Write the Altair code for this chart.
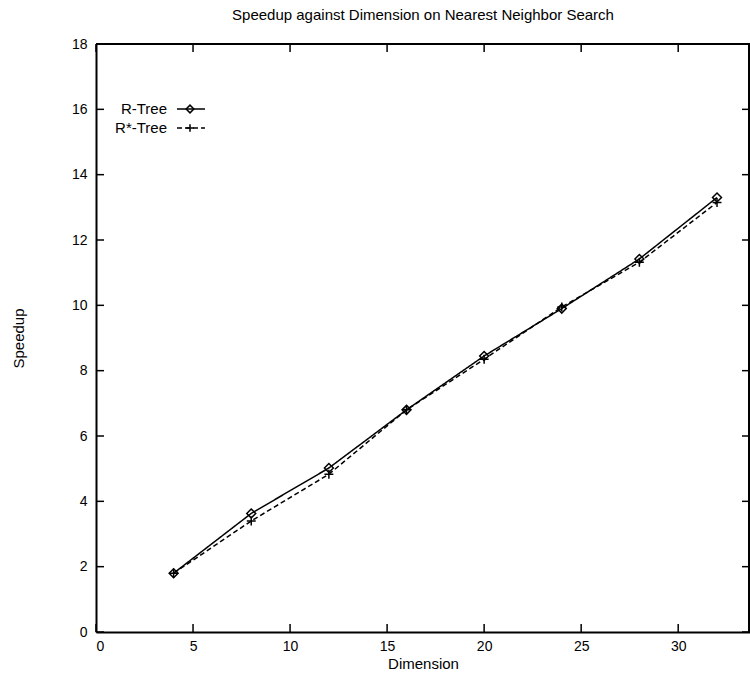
import altair as alt
import pandas as pd

# ---- data ----
dims = [4, 8, 12, 16, 20, 24, 28, 32]
rtree = [1.8, 3.63, 5.02, 6.8, 8.45, 9.9, 11.42, 13.3]
rstar = [1.8, 3.4, 4.83, 6.8, 8.35, 9.95, 11.32, 13.15]
series = ["R-Tree", "R*-Tree"]
x_ticks = [0, 5, 10, 15, 20, 25, 30]
y_ticks = [0, 2, 4, 6, 8, 10, 12, 14, 16, 18]

# ---- layout / style ----
W, H = 654, 588
FONT = "Liberation Sans"
TICK = 8
LW = 1.5
FRAME = 2
PLUS = "M-1,0L1,0M0,-1L0,1"
DASHES = [[1, 0], [5, 3]]
SHAPES = ["diamond", PLUS]

df = pd.DataFrame({
    "dim": dims * 2,
    "speedup": rtree + rstar,
    "series": [series[0]] * len(dims) + [series[1]] * len(dims),
})

xs = alt.Scale(domain=[0, 33.7], nice=False, zero=False)
ys = alt.Scale(domain=[0, 18], nice=False)

x_axis = alt.Axis(values=x_ticks, ticks=False, domain=True, domainColor="black",
                  domainWidth=FRAME, grid=False,
                  labelFont=FONT, labelFontSize=14, labelColor="black",
                  labelPadding=7, title="Dimension", titleFont=FONT,
                  titleFontSize=15, titleFontWeight="normal", titleColor="black",
                  titleY=31, titleBaseline="middle")
y_axis = alt.Axis(values=y_ticks, ticks=False, domain=True, domainColor="black",
                  domainWidth=FRAME, grid=False,
                  labelFont=FONT, labelFontSize=14, labelColor="black",
                  labelPadding=9, title="Speedup", titleFont=FONT,
                  titleFontSize=15, titleFontWeight="normal", titleColor="black",
                  titleX=-78, titleY=H / 2, titleAngle=-90,
                  titleAlign="center", titleBaseline="middle")

base = alt.Chart(df)
lines = base.mark_line(color="black", strokeWidth=LW).encode(
    x=alt.X("dim:Q", scale=xs, axis=x_axis),
    y=alt.Y("speedup:Q", scale=ys, axis=y_axis),
    strokeDash=alt.StrokeDash("series:N", scale=alt.Scale(domain=series, range=DASHES), legend=None),
    detail="series:N",
)
points = base.mark_point(color="black", filled=False, strokeWidth=LW, size=80, opacity=1).encode(
    x=alt.X("dim:Q", scale=xs, axis=x_axis),
    y=alt.Y("speedup:Q", scale=ys, axis=y_axis),
    shape=alt.Shape("series:N", scale=alt.Scale(domain=series, range=SHAPES), legend=None),
)

# inward ticks (gnuplot style), mirrored on all four sides
tx = pd.DataFrame({"dim": x_ticks})
ty = pd.DataFrame({"speedup": y_ticks})
rule = dict(color="black", strokeWidth=LW)
ticks = [
    alt.Chart(tx).mark_rule(**rule).encode(x=alt.X("dim:Q", scale=xs, axis=x_axis), y=alt.value(H), y2=alt.value(H - TICK)),
    alt.Chart(tx).mark_rule(**rule).encode(x=alt.X("dim:Q", scale=xs, axis=x_axis), y=alt.value(0), y2=alt.value(TICK)),
    alt.Chart(ty).mark_rule(**rule).encode(y=alt.Y("speedup:Q", scale=ys, axis=y_axis), x=alt.value(0), x2=alt.value(TICK)),
    alt.Chart(ty).mark_rule(**rule).encode(y=alt.Y("speedup:Q", scale=ys, axis=y_axis), x=alt.value(W), x2=alt.value(W - TICK)),
]

# top and right edges of the plot frame
frame_df = pd.DataFrame({"edge": ["top"]})
frame = [
    alt.Chart(frame_df).mark_rule(color="black", strokeWidth=FRAME)
    .encode(x=alt.value(0), x2=alt.value(W), y=alt.value(0)),
    alt.Chart(frame_df).mark_rule(color="black", strokeWidth=FRAME)
    .encode(x=alt.value(W - 1), y=alt.value(0), y2=alt.value(H)),
]

# legend, gnuplot style (label left of sample)
LEG_Y = [65, 84]
legend_layers = []
for name, ly, dash, shp in zip(series, LEG_Y, DASHES, SHAPES):
    ldf = pd.DataFrame({"label": [name]})
    legend_layers.append(
        alt.Chart(ldf).mark_text(align="right", baseline="middle", font=FONT, fontSize=15, color="black")
        .encode(text="label:N", x=alt.value(71), y=alt.value(ly)))
    legend_layers.append(
        alt.Chart(ldf).mark_rule(color="black", strokeWidth=LW, strokeDash=dash)
        .encode(x=alt.value(81), x2=alt.value(109), y=alt.value(ly)))
    legend_layers.append(
        alt.Chart(ldf).mark_point(color="black", filled=False, strokeWidth=LW, size=60, opacity=1, shape=shp)
        .encode(x=alt.value(94), y=alt.value(ly)))

chart = alt.layer(lines, points, *ticks, *frame, *legend_layers).properties(
    width=W, height=H,
    title=alt.TitleParams("Speedup against Dimension on Nearest Neighbor Search",
                          font=FONT, fontSize=15, fontWeight="normal", color="black",
                          anchor="middle", offset=14),
    autosize=alt.AutoSizeParams(type="none"),
    padding={"left": 96, "top": 44, "right": 0, "bottom": 43},
).configure(background="white").configure_view(stroke=None)

chart.save("out.html", embed_options={"renderer": "svg", "actions": False})
